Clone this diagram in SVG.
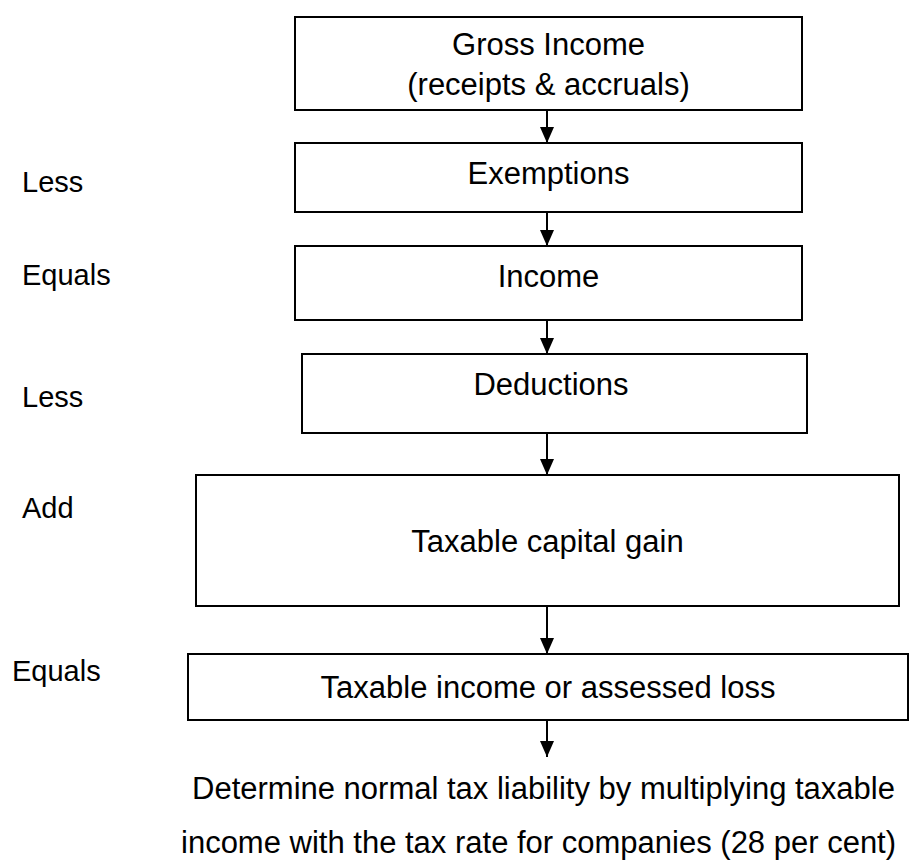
<svg xmlns="http://www.w3.org/2000/svg" width="922" height="860" viewBox="0 0 922 860">
<defs>
<style>
.box{fill:#fff;stroke:#000;stroke-width:2}
.t{font-family:"Liberation Sans",Arial,sans-serif;font-size:31px;fill:#000;text-anchor:middle}
.lbl{font-family:"Liberation Sans",Arial,sans-serif;font-size:29px;fill:#000}
.bt{font-family:"Liberation Sans",Arial,sans-serif;font-size:31px;fill:#000}
.c{stroke:#000;stroke-width:2;fill:none}
</style>
<marker id="ah" viewBox="0 0 16 14" refX="16" refY="7" markerWidth="16" markerHeight="14" markerUnits="userSpaceOnUse" orient="auto">
<path d="M0,0 L16,7 L0,14 Z" fill="#000"/>
</marker>
</defs>
<rect width="922" height="860" fill="#fff"/>
<g id="connectors">
<line class="c" x1="547" y1="110" x2="547" y2="143" marker-end="url(#ah)"/>
<line class="c" x1="547" y1="212" x2="547" y2="246" marker-end="url(#ah)"/>
<line class="c" x1="547" y1="320" x2="547" y2="354" marker-end="url(#ah)"/>
<line class="c" x1="547" y1="433" x2="547" y2="475" marker-end="url(#ah)"/>
<line class="c" x1="547" y1="606" x2="547" y2="654" marker-end="url(#ah)"/>
<line class="c" x1="547" y1="720" x2="547" y2="757" marker-end="url(#ah)"/>
</g>
<g id="gross-income">
<rect class="box" x="295" y="17" width="507" height="93"/>
<text class="t" x="548.5" y="55">Gross Income</text>
<text class="t" x="548.5" y="95">(receipts &amp; accruals)</text>
</g>
<g id="exemptions">
<rect class="box" x="295" y="143" width="507" height="69"/>
<text class="t" x="548.5" y="184">Exemptions</text>
</g>
<g id="income">
<rect class="box" x="295" y="246" width="507" height="74"/>
<text class="t" x="548.5" y="287">Income</text>
</g>
<g id="deductions">
<rect class="box" x="302" y="354" width="505" height="79"/>
<text class="t" x="551" y="395">Deductions</text>
</g>
<g id="capital-gain">
<rect class="box" x="196" y="475" width="703" height="131"/>
<text class="t" x="547.5" y="552">Taxable capital gain</text>
</g>
<g id="taxable-income">
<rect class="box" x="188" y="654" width="720" height="66"/>
<text class="t" x="548" y="698">Taxable income or assessed loss</text>
</g>
<g id="labels">
<text class="lbl" x="22" y="192">Less</text>
<text class="lbl" x="22" y="285">Equals</text>
<text class="lbl" x="22" y="407">Less</text>
<text class="lbl" x="22" y="518">Add</text>
<text class="lbl" x="12" y="681">Equals</text>
</g>
<g id="result">
<text class="bt" x="192" y="799">Determine normal tax liability by multiplying taxable</text>
<text class="bt" x="181" y="853">income with the tax rate for companies (28 per cent)</text>
</g>
</svg>
